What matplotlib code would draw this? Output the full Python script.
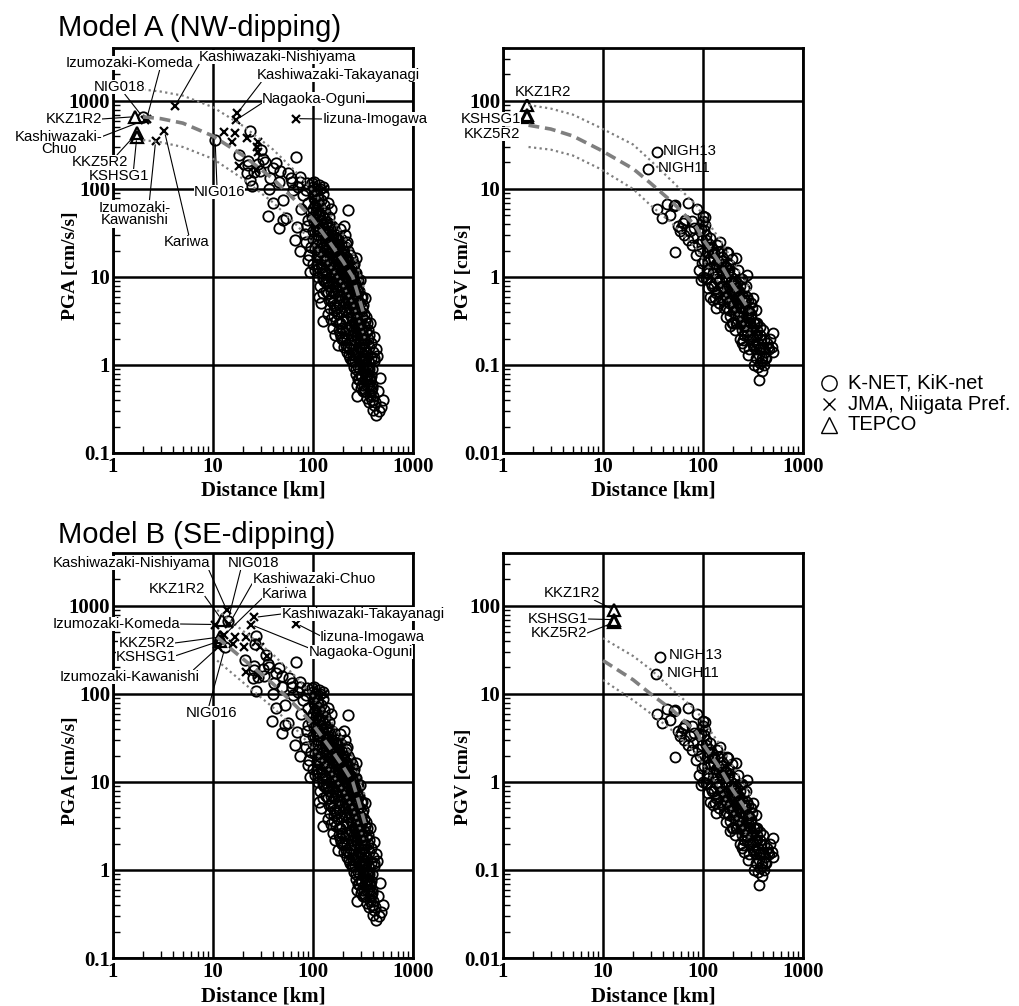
import matplotlib
matplotlib.use("Agg")
import matplotlib.pyplot as plt
from matplotlib.lines import Line2D
from matplotlib.ticker import FixedLocator, FixedFormatter, LogLocator, NullFormatter

W, H = 1020, 1006

plt.rcParams["font.family"] = ["Liberation Serif", "DejaVu Serif"]
plt.rcParams["font.weight"] = "bold"
plt.rcParams["font.size"] = 15

# ---------------- axis ticks ----------------
dist_ticks = [1, 10, 100, 1000]
dist_labels = ["1", "10", "100", "1000"]
pga_ticks = [0.1, 1, 10, 100, 1000]
pga_labels = ["0.1", "1", "10", "100", "1000"]
pgv_ticks = [0.01, 0.1, 1, 10, 100]
pgv_labels = ["0.01", "0.1", "1", "10", "100"]

# ---------------- attenuation curves (median, +/- sigma) ----------------
pga_a_r = [2, 3, 5, 10, 20, 40, 70, 100, 150, 200, 250, 300, 330]
pga_a_med = [660, 630, 560, 400, 240, 130, 70, 45, 24, 15, 10, 5, 3.4]
pga_a_up = [1350, 1280, 1150, 850, 520, 280, 150, 95, 50, 30, 19, 10, 7]
pga_a_lo = [360, 340, 300, 220, 130, 70, 38, 24, 13, 8, 5, 2.8, 2]

pga_b_r = [11, 20, 40, 70, 100, 150, 200, 250, 300, 330]
pga_b_med = [440, 250, 130, 70, 45, 24, 15, 10, 5, 3.4]
pga_b_up = [900, 520, 280, 150, 95, 50, 30, 19, 10, 7]
pga_b_lo = [240, 135, 70, 38, 24, 13, 8, 5, 2.8, 2]

pgv_a_r = [1.8, 3, 5, 9.3, 20, 30, 50, 86, 100, 150, 200, 250, 300]
pgv_a_med = [53, 48, 40, 28, 17, 11.6, 7, 3.7, 2.7, 1.4, 0.8, 0.55, 0.4]
pgv_a_up = [90, 82, 70, 50, 32, 21, 12, 6.5, 5, 2.6, 1.5, 1.0, 0.7]
pgv_a_lo = [30, 28, 24, 17, 10, 6.5, 4, 2.1, 1.6, 0.8, 0.45, 0.3, 0.22]

pgv_b_r = [10, 20, 30, 50, 86, 100, 150, 200, 250, 300]
pgv_b_med = [24, 14.5, 10, 6.5, 3.7, 2.7, 1.4, 0.8, 0.55, 0.4]
pgv_b_up = [43, 27, 19, 11, 6.5, 5, 2.6, 1.5, 1.0, 0.7]
pgv_b_lo = [14.4, 8.5, 6, 3.8, 2.1, 1.6, 0.8, 0.45, 0.3, 0.22]

# ---------------- K-NET / KiK-net PGA (shared far field) ----------------
pga_knet_far = [
    (66, 26), (74, 20), (89, 15.5), (94, 11.5), (83, 31), (68.5, 37), (76.6, 60), (89, 44),
    (104, 75), (97, 116), (116, 110), (113, 51), (100, 33), (108, 26), (86, 97), (71.5, 106),
    (90, 70), (80, 85), (95, 55), (85, 25), (92, 18), (99, 14), (96, 22), (105, 65),
    (102, 90), (110, 85), (98, 48), (88, 38), (68, 230), (74, 138), (87, 116), (100, 106),
    (126, 106), (61, 121), (63.6, 97), (74, 121),
    (102, 120), (106, 95), (112, 78), (118, 100), (125, 88), (103, 42), (107, 36), (113, 30),
    (119, 45), (124, 58), (128, 66), (100, 27), (104, 21), (109, 17), (115, 24), (121, 19),
    (127, 32), (105, 12), (111, 10), (117, 8), (123, 13), (126, 6.5), (126, 3.2), (120, 5),
    (114, 6), (130, 9), (129, 15), (131, 26), (110, 14), (116, 12.5),
    (133, 55), (137, 42), (141, 70), (146, 48), (150, 60), (155, 38), (134, 22), (138, 30),
    (143, 26), (147, 19), (152, 24), (157, 29), (162, 35), (135, 11), (139, 16), (144, 13),
    (149, 10), (154, 15), (160, 18), (165, 22), (168, 28), (136, 7), (140, 8.5), (145, 5.5),
    (151, 7), (156, 9), (161, 11), (166, 13), (170, 16), (142, 3.8), (148, 4.5), (153, 3.3),
    (158, 5), (163, 6.5), (169, 8), (159, 2.6), (164, 3.6), (167, 2.2), (172, 4.5),
    (175, 30), (180, 22), (186, 35), (192, 27), (198, 20), (204, 38), (210, 30), (174, 12),
    (178, 17), (183, 14), (189, 19), (195, 15), (201, 12), (207, 22), (213, 17), (218, 25),
    (176, 7), (181, 9.5), (187, 6), (193, 8), (199, 10), (205, 6.8), (211, 9), (216, 12),
    (179, 1.7), (182, 3), (188, 2.3), (191, 4), (197, 3.2), (203, 5), (209, 4.2), (215, 3.5),
    (219, 6), (184, 4.8), (196, 2), (206, 1.6), (212, 2.6), (217, 1.4),
    (224, 57), (216, 24), (222, 20), (228, 15), (234, 18), (240, 13), (247, 16), (253, 11),
    (259, 14), (269, 16.6), (223, 10), (229, 8), (236, 11), (242, 7), (248, 9), (255, 6.5),
    (261, 8.5), (267, 11), (273, 7.5), (225, 5), (231, 4), (238, 6), (244, 3.5), (250, 4.8),
    (256, 3), (263, 5.5), (270, 4.2), (276, 6), (227, 2.5), (233, 1.8), (239, 2.8), (246, 2.2),
    (252, 1.5), (258, 2.5), (264, 1.9), (271, 3), (277, 2.2), (232, 1.2), (249, 1.1), (262, 1.3),
    (274, 0.6), (275, 0.44), (268, 0.9), (279, 1.4), (280, 9),
    (283, 5), (290, 7), (295, 9.3), (300, 4), (306, 6), (312, 3.5), (318, 4.8), (325, 2.8),
    (331, 5.8), (338, 3.5), (286, 2.8), (292, 2), (298, 3), (303, 1.6), (309, 2.4), (315, 1.8),
    (321, 1.3), (327, 2), (334, 1.5), (341, 2.4), (288, 1.2), (296, 0.9), (304, 1.1), (311, 0.75),
    (319, 0.95), (328, 0.68), (336, 1), (344, 0.8), (282, 0.7), (300, 0.55), (313, 0.5),
    (343, 0.42), (348, 0.6),
    (355, 2), (365, 1.6), (372, 3), (380, 1.2), (392, 0.9), (403, 2.1), (412, 1.1), (427, 1.5),
    (437, 1.26), (358, 0.95), (368, 0.7), (376, 0.5), (388, 0.6), (398, 0.45), (406, 0.35),
    (427, 0.27), (418, 0.38), (445, 0.5), (468, 0.72), (480, 0.33), (501, 0.4), (455, 0.3),
    (362, 0.38), (395, 0.31),
]

# denser core of the far-field band
pga_knet_core = [
    (101, 60), (103, 80), (106, 55), (108, 45), (111, 38), (114, 50), (117, 34), (120, 28),
    (123, 40), (126, 22), (129, 35), (132, 18), (134, 40), (137, 24), (139, 20), (142, 33),
    (144, 17), (147, 27), (149, 14), (152, 19), (154, 11), (157, 21), (159, 13), (162, 15),
    (164, 10), (167, 18), (169, 12), (171, 9), (173, 20), (176, 14), (178, 10), (181, 12),
    (183, 8), (186, 15), (188, 11), (191, 9.5), (193, 13), (196, 7), (198, 11), (201, 8.5),
    (203, 14), (206, 9), (208, 6), (211, 11), (213, 7.5), (216, 5), (218, 9), (221, 6.5),
    (223, 13), (226, 7), (229, 5.5), (231, 9.5), (234, 4.5), (236, 7.5), (239, 5), (241, 9),
    (244, 6), (246, 4), (249, 7), (251, 5), (254, 3.5), (256, 8), (259, 4.5), (261, 3),
    (264, 6.5), (266, 4), (269, 2.6), (271, 5.5), (274, 3.5), (276, 2.4), (279, 4.5), (281, 3),
    (284, 2), (286, 4), (289, 2.6), (291, 1.6), (294, 3.2), (297, 2.2), (299, 1.4), (302, 2.6),
    (305, 1.9), (308, 1.2), (311, 2.2), (314, 1.5), (317, 1), (320, 1.8), (324, 1.2), (327, 0.85),
    (330, 1.4), (334, 1.1), (338, 0.75), (342, 1.2), (346, 0.9), (350, 0.7), (354, 1.1),
    (358, 0.8), (362, 0.6), (366, 0.9), (370, 0.65), (375, 0.45), (380, 0.75), (385, 0.55),
    (390, 0.4),
    (115, 20), (118, 16), (121, 14), (124, 11), (127, 9.5), (131, 12), (136, 9), (141, 6.5),
    (146, 8), (151, 5.5), (156, 6), (161, 4.2), (166, 4.8), (171, 3.2), (177, 3.8), (182, 2.5),
    (187, 3), (192, 2.1), (197, 2.6), (202, 1.9), (207, 2.3), (212, 1.7), (218, 2), (224, 1.6),
    (230, 1.3), (237, 1.5), (243, 1.1), (250, 1.3), (256, 0.95), (263, 1.1), (270, 0.8),
    (282, 0.95), (290, 0.7), (300, 0.75), (310, 0.6), (320, 0.6), (330, 0.5),
    (104, 100), (109, 70), (114, 65), (119, 75), (124, 50), (129, 48), (134, 30), (140, 36),
    (145, 40), (150, 30), (156, 25), (161, 25), (167, 20), (172, 24), (178, 27), (184, 22),
    (190, 24), (196, 17), (202, 18), (208, 16), (214, 14), (220, 15), (226, 12), (232, 12),
    (238, 10), (244, 11), (250, 13), (256, 10), (262, 11), (268, 8), (274, 9), (285, 7),
    (292, 5), (300, 6), (310, 4.5), (320, 3.8), (330, 3.2), (345, 3), (355, 2.5), (365, 2.2),
    (380, 1.8), (395, 1.4), (410, 1.2),
]

pga_knet_near_a = [
    (18.3, 243), (23.4, 460), (22.5, 210), (25.7, 157), (30, 277), (31.6, 222), (29.5, 162),
    (40, 172), (46.6, 162), (37, 132), (43, 196), (56, 150), (23.4, 127), (22.5, 188),
    (21.7, 150), (24.4, 108), (36.5, 99), (35.7, 48.7), (46, 36), (50, 44), (54, 46.5),
    (40, 69), (50, 75), (33, 200), (28, 190), (46, 121), (59.6, 133),
]
pga_knet_near_b = [
    (20.9, 243), (27, 456), (25.5, 210), (28.5, 157), (33.5, 277), (35.7, 222), (32.5, 162),
    (43, 172), (49.5, 162), (40.5, 132), (46, 196), (58, 150), (27.2, 108), (25.8, 188),
    (25, 150), (26.3, 373), (39.5, 99), (39, 48.7), (48.5, 36), (52.5, 44), (56.5, 46.5),
    (43, 69), (53, 75), (36.5, 200), (31.5, 190), (49, 121), (61, 133),
]

# named K-NET stations (PGA)
knet_a_names = ["NIG018", "NIG016"]
knet_a_r = [2.0, 10.5]
knet_a_pga = [650, 360]
knet_b_names = ["NIG018", "NIG016"]
knet_b_r = [14.1, 13.2]
knet_b_pga = [680, 340]

# ---------------- JMA / Niigata Pref. PGA ----------------
jma_a_names = ["Kashiwazaki-Nishiyama", "Izumozaki-Komeda", "Kashiwazaki-Chuo",
               "Izumozaki-Kawanishi", "Kariwa", "Kashiwazaki-Takayanagi",
               "Nagaoka-Oguni", "Iizuna-Imogawa"]
jma_a_r = [4.17, 2.17, 2.09, 2.67, 3.26, 17.5, 17.0, 67]
jma_a_pga = [877, 624, 608, 354, 460, 725, 608, 630]
jma_a_other_r = [12.9, 16.6, 15.6, 21.9, 28.4, 28.4, 18, 27.2, 27.5, 130]
jma_a_other_pga = [441, 436, 345, 377, 345, 265, 184, 164, 300, 100]

jma_b_names = ["Kashiwazaki-Nishiyama", "Izumozaki-Komeda", "Kashiwazaki-Chuo",
               "Izumozaki-Kawanishi", "Kariwa", "Kashiwazaki-Takayanagi",
               "Nagaoka-Oguni", "Iizuna-Imogawa"]
jma_b_r = [13.7, 10.5, 14.6, 11.3, 12.9, 25.7, 23.8, 68]
jma_b_pga = [900, 616, 630, 340, 464, 741, 616, 632]
jma_b_other_r = [16.6, 21.4, 15.7, 20.2, 26.9, 29.5, 21.4, 28.4, 34.4, 130]
jma_b_other_pga = [444, 444, 366, 340, 389, 340, 176, 165, 273, 100]

# ---------------- TEPCO ----------------
tepco_names = ["KKZ1R2", "KKZ5R2", "KSHSG1"]
tepco_a_r = [1.66, 1.73, 1.73]
tepco_a_pga = [663, 430, 394]
tepco_b_r = [12.2, 11.7, 11.7]
tepco_b_pga = [700, 444, 400]
tepco_a_pgv_r = [1.75, 1.75, 1.75]
tepco_b_pgv_r = [12.9, 12.9, 12.9]
tepco_pgv = [90, 65, 70]

# ---------------- K-NET / KiK-net PGV ----------------
pgv_named = ["NIGH13", "NIGH11"]
pgv_named_a_r = [34.6, 28.2]
pgv_named_b_r = [36.9, 33.9]
pgv_named_v = [26.5, 16.9]

pgv_knet = [
    (34.6, 5.9), (38.9, 4.7), (43.7, 6.7), (50.8, 6.4), (46.8, 5.0), (70.8, 6.9), (87.1, 5.9),
    (52.5, 1.94), (63, 4.1), (58.9, 3.3), (77.6, 4.3), (73.6, 3.3), (70.8, 2.6), (77.6, 2.3),
    (93.3, 2.0), (105, 4.8), (100, 4.3), (98.5, 2.6), (98, 1.43), (96.6, 0.92), (53, 6.5),
    (60, 3.6), (66, 4.4), (80, 2.8), (85, 1.8), (90, 2.4), (95, 3.5), (92, 1.2), (100, 1.0),
    (65, 3.0), (56, 3.8), (82, 3.6),
    (100.8, 4.9), (105, 3.9), (108, 3.0), (112, 2.2), (115, 1.6), (118, 2.8), (122, 1.9),
    (125, 1.3), (128, 1.85), (128, 0.78), (132, 0.58), (135, 1.1), (138, 2.3), (142, 1.5),
    (145, 0.9), (148, 2.5), (150, 1.2), (153, 2.0), (108, 0.97), (103, 1.5), (110, 1.2),
    (118, 0.6), (120, 0.85), (140, 0.7), (145, 0.5), (135, 0.45), (125, 0.55), (113, 0.75),
    (130, 1.6), (155, 1.7),
    (158, 0.8), (160, 1.4), (165, 1.0), (170, 0.6), (175, 1.9), (179, 1.85), (182, 1.2),
    (186, 1.37), (185, 0.36), (190, 0.9), (195, 0.5), (200, 0.55), (200, 0.3), (205, 1.1),
    (210, 0.7), (216, 1.63), (215, 0.45), (220, 0.85), (162, 0.45), (168, 0.35), (175, 0.75),
    (180, 0.5), (192, 0.65), (198, 0.4), (208, 0.9), (212, 0.3), (178, 1.4), (188, 0.28),
    (170, 1.3), (195, 1.6), (218, 0.6),
    (225, 1.2), (230, 0.5), (236, 0.78), (240, 0.4), (245, 0.95), (250, 0.6), (253, 0.19),
    (255, 0.3), (260, 0.75), (265, 0.45), (270, 0.25), (274, 1.05), (274, 0.27), (278, 0.6),
    (282, 0.55), (285, 0.13), (288, 0.4), (292, 0.3), (296, 0.2), (300, 0.5), (228, 0.7),
    (238, 0.3), (248, 0.36), (258, 0.22), (268, 0.8), (280, 0.35), (290, 0.15), (262, 0.55),
    (232, 0.95), (244, 0.25),
    (305, 0.38), (310, 0.25), (316, 0.58), (316, 0.21), (322, 0.3), (330, 0.17), (335, 0.42),
    (340, 0.12), (345, 0.22), (350, 0.3), (360, 0.15), (367, 0.068), (372, 0.27), (372, 0.155),
    (372, 0.105), (380, 0.2), (386, 0.085), (390, 0.12), (400, 0.16), (410, 0.1), (420, 0.14),
    (440, 0.18), (460, 0.15), (485, 0.16), (503, 0.23), (503, 0.14), (325, 0.1), (355, 0.095),
    (395, 0.25), (470, 0.2), (430, 0.12), (310, 0.45), (340, 0.3),
]

pgv_knet_core = [
    (102, 3.4), (106, 2.6), (110, 1.9), (114, 2.4), (118, 1.5), (122, 2.1), (126, 1.1),
    (130, 1.9), (134, 1.4), (138, 0.95), (142, 1.9), (146, 1.3), (150, 0.8), (154, 1.5),
    (158, 1.1), (162, 0.7), (166, 1.3), (170, 0.9), (174, 0.6), (178, 1.1), (182, 0.8),
    (186, 0.55), (190, 1.0), (194, 0.7), (198, 0.48), (202, 0.85), (206, 0.6), (210, 0.42),
    (215, 0.75), (220, 0.5), (225, 0.36), (230, 0.65), (235, 0.45), (240, 0.3), (246, 0.55),
    (252, 0.4), (258, 0.28), (264, 0.5), (270, 0.35), (276, 0.22), (282, 0.42), (288, 0.3),
    (294, 0.2), (300, 0.35), (308, 0.26), (315, 0.17), (322, 0.3), (330, 0.22), (338, 0.15),
    (346, 0.25), (354, 0.18), (362, 0.13), (370, 0.22), (380, 0.16), (390, 0.11), (405, 0.19),
    (420, 0.12), (450, 0.16), (112, 1.1), (124, 0.8), (136, 0.65), (148, 0.6), (160, 0.55),
    (172, 0.45), (184, 0.42), (196, 0.3), (208, 0.25), (220, 0.3), (232, 0.2), (246, 0.18),
    (260, 0.16),
]

# ---------------- annotation layout: (text, station, x_px, y_px, relpos) ----------------
ann_pga_a = [
    ("Kashiwazaki-Nishiyama", "Kashiwazaki-Nishiyama", 278, 57, (0.0, 0.0)),
    ("Izumozaki-Komeda", "Izumozaki-Komeda", 129, 63, (0.74, 0.0)),
    ("Kashiwazaki-Takayanagi", "Kashiwazaki-Takayanagi", 338, 75, (0.03, 0.0)),
    ("NIG018", "NIG018", 119.5, 87, (0.6, 0.0)),
    ("Nagaoka-Oguni", "Nagaoka-Oguni", 314, 99, (0.0, 0.2)),
    ("KKZ1R2", "KKZ1R2", 73.5, 119, (1.0, 0.5)),
    ("Kashiwazaki-\nChuo", "Kashiwazaki-Chuo", 59, 143, (1.0, 0.75)),
    ("KKZ5R2", "KKZ5R2", 100, 162, (0.8, 1.0)),
    ("KSHSG1", "KSHSG1", 118.5, 176, (0.75, 1.0)),
    ("Izumozaki-\nKawanishi", "Izumozaki-Kawanishi", 135, 214, (0.7, 1.0)),
    ("Kariwa", "Kariwa", 186.5, 242, (0.55, 1.0)),
    ("NIG016", "NIG016", 219.5, 192, (0.45, 1.0)),
    ("Iizuna-Imogawa", "Iizuna-Imogawa", 375, 119, (0.0, 0.5)),
]
ann_pga_b = [
    ("Kashiwazaki-Nishiyama", "Kashiwazaki-Nishiyama", 132, 563, (0.98, 0.2)),
    ("NIG018", "NIG018", 253.5, 563, (0.25, 0.0)),
    ("Kashiwazaki-Chuo", "Kashiwazaki-Chuo", 314, 579, (0.0, 0.2)),
    ("KKZ1R2", "KKZ1R2", 176.5, 589, (1.0, 0.0)),
    ("Kariwa", "Kariwa", 285, 594, (0.0, 0.2)),
    ("Kashiwazaki-Takayanagi", "Kashiwazaki-Takayanagi", 363, 614, (0.0, 0.5)),
    ("Izumozaki-Komeda", "Izumozaki-Komeda", 116.5, 624, (1.0, 0.5)),
    ("Iizuna-Imogawa", "Iizuna-Imogawa", 372.5, 637, (0.0, 0.6)),
    ("Nagaoka-Oguni", "Nagaoka-Oguni", 360.5, 652, (0.0, 0.8)),
    ("KKZ5R2", "KKZ5R2", 146.5, 643, (1.0, 0.5)),
    ("KSHSG1", "KSHSG1", 146, 657, (1.0, 0.6)),
    ("Izumozaki-Kawanishi", "Izumozaki-Kawanishi", 130, 677, (0.93, 0.8)),
    ("NIG016", "NIG016", 211.5, 713, (0.45, 1.0)),
]
ann_pgv_a = [
    ("KKZ1R2", None, 543, 92, None),
    ("KSHSG1", None, 490.5, 119, None),
    ("KKZ5R2", None, 492, 134, None),
]
ann_pgv_b = [
    ("KKZ1R2", "KKZ1R2", 571.5, 593, (0.9, 0.0)),
    ("KSHSG1", "KSHSG1", 557.5, 619, (1.0, 0.5)),
    ("KKZ5R2", "KKZ5R2", 559, 633, (1.0, 0.5)),
]
nigh_a_text = [("NIGH13", 663, 151), ("NIGH11", 658, 168)]
nigh_b_text = [("NIGH13", 669, 655), ("NIGH11", 667, 673)]

SANS = ["Liberation Sans", "DejaVu Sans"]
ANN_FS = 10.7
GRAY = "#7f7f7f"


def setup(ax, yticks, ylabels, ylim, ylabel, ylab_x, ylab_y):
    ax.set_xscale("log")
    ax.set_yscale("log")
    ax.set_xlim(1, 1000)
    ax.set_ylim(*ylim)
    ax.xaxis.set_major_locator(FixedLocator(dist_ticks))
    ax.xaxis.set_major_formatter(FixedFormatter(dist_labels))
    ax.yaxis.set_major_locator(FixedLocator(yticks))
    ax.yaxis.set_major_formatter(FixedFormatter(ylabels))
    for axis in (ax.xaxis, ax.yaxis):
        axis.set_minor_locator(LogLocator(base=10, subs=range(2, 10), numticks=30))
        axis.set_minor_formatter(NullFormatter())
    ax.set_axisbelow(True)
    ax.grid(True, which="major", color="black", lw=1.8)
    ax.tick_params(which="major", length=0, pad=3, labelsize=15)
    ax.tick_params(axis="y", which="major", pad=2)
    ax.tick_params(which="minor", direction="in", length=5, width=1, color="black")
    for s in ax.spines.values():
        s.set_linewidth(2)
    ax.text(0.5, -38 / 405, "Distance [km]", transform=ax.transAxes, ha="center",
            va="center", fontsize=15, fontweight="bold")
    ax.text(ylab_x, ylab_y, ylabel, transform=ax.transAxes, rotation=90, ha="center",
            va="center", fontsize=14, fontweight="bold")


def curves(ax, r, med, up, lo):
    ax.plot(r, up, color=GRAY, lw=1.6, ls=(0, (1, 1.5)), zorder=5)
    ax.plot(r, lo, color=GRAY, lw=1.6, ls=(0, (1, 1.5)), zorder=5)
    ax.plot(r, med, color=GRAY, lw=2.6, ls=(0, (3, 1.6)), zorder=5)


def circles(ax, pts, ms=7.5):
    ax.plot([p[0] for p in pts], [p[1] for p in pts], "o", mfc="none", mec="black",
            mew=1.3, ms=ms, zorder=3)


def annotate(ax, items, lookup):
    for text, key, tx, ty, rel in items:
        kw = dict(textcoords="figure pixels", xytext=(tx, H - ty), ha="center",
                  va="center", fontsize=ANN_FS, family=SANS, fontweight="normal",
                  linespacing=0.9, annotation_clip=False, zorder=7,
                  bbox=dict(facecolor="white", edgecolor="none", pad=0.1))
        if key is None:
            ax.annotate(text, xy=(tx, H - ty), xycoords="figure pixels", **kw)
        else:
            ax.annotate(text, xy=lookup[key], xycoords="data",
                        arrowprops=dict(arrowstyle="-", color="black", lw=0.8,
                                        shrinkA=0, shrinkB=3, relpos=rel), **kw)


fig = plt.figure(figsize=(W / 100, H / 100), dpi=100)
ax_w = 300 / W
ax_h = 405 / H
ax1 = fig.add_axes([113 / W, (H - 453) / H, ax_w, ax_h])
ax2 = fig.add_axes([503 / W, (H - 453) / H, ax_w, ax_h])
ax3 = fig.add_axes([113 / W, (H - 958) / H, ax_w, ax_h])
ax4 = fig.add_axes([503 / W, (H - 958) / H, ax_w, ax_h])

setup(ax1, pga_ticks, pga_labels, (0.1, 4000), "PGA [cm/s/s]", -0.14, 0.462)
setup(ax3, pga_ticks, pga_labels, (0.1, 4000), "PGA [cm/s/s]", -0.14, 0.462)
setup(ax2, pgv_ticks, pgv_labels, (0.01, 400), "PGV [cm/s]", -0.133, 0.448)
setup(ax4, pgv_ticks, pgv_labels, (0.01, 400), "PGV [cm/s]", -0.133, 0.448)

# ---- PGA panels ----
for ax, near, kn, kr, kv, jn, jr, jv, jor, jov, tr, tv, cr, cm, cu, cl, ann in [
    (ax1, pga_knet_near_a, knet_a_names, knet_a_r, knet_a_pga, jma_a_names, jma_a_r, jma_a_pga,
     jma_a_other_r, jma_a_other_pga, tepco_a_r, tepco_a_pga,
     pga_a_r, pga_a_med, pga_a_up, pga_a_lo, ann_pga_a),
    (ax3, pga_knet_near_b, knet_b_names, knet_b_r, knet_b_pga, jma_b_names, jma_b_r, jma_b_pga,
     jma_b_other_r, jma_b_other_pga, tepco_b_r, tepco_b_pga,
     pga_b_r, pga_b_med, pga_b_up, pga_b_lo, ann_pga_b),
]:
    circles(ax, pga_knet_far)
    circles(ax, pga_knet_core)
    circles(ax, near)
    circles(ax, list(zip(kr, kv)))
    ax.plot(jr + jor, jv + jov, "x", color="black", ms=6, mew=1.6, zorder=4)
    ax.plot(tr, tv, "^", mfc="none", mec="black", ms=8.5, mew=1.6, zorder=4)
    curves(ax, cr, cm, cu, cl)
    lookup = {}
    lookup.update({n: (r, v) for n, r, v in zip(kn, kr, kv)})
    lookup.update({n: (r, v) for n, r, v in zip(jn, jr, jv)})
    lookup.update({n: (r, v) for n, r, v in zip(tepco_names, tr, tv)})
    annotate(ax, ann, lookup)

# ---- PGV panels ----
for ax, nr, tr, cr, cm, cu, cl, ann, ntext in [
    (ax2, pgv_named_a_r, tepco_a_pgv_r, pgv_a_r, pgv_a_med, pgv_a_up, pgv_a_lo, ann_pgv_a, nigh_a_text),
    (ax4, pgv_named_b_r, tepco_b_pgv_r, pgv_b_r, pgv_b_med, pgv_b_up, pgv_b_lo, ann_pgv_b, nigh_b_text),
]:
    circles(ax, pgv_knet, ms=7.2)
    circles(ax, pgv_knet_core, ms=7.2)
    circles(ax, list(zip(nr, pgv_named_v)), ms=7.2)
    ax.plot(tr, tepco_pgv, "^", mfc="none", mec="black", ms=8.5, mew=1.6, zorder=4)
    curves(ax, cr, cm, cu, cl)
    lookup = {n: (r, v) for n, r, v in zip(tepco_names, tr, tepco_pgv)}
    annotate(ax, ann, lookup)
    for text, tx, ty in ntext:
        fig.text(tx / W, 1 - ty / H, text, ha="left", va="center", fontsize=ANN_FS,
                 family=SANS, fontweight="normal", zorder=7)

# ---- titles ----
fig.text(58 / W, 1 - 36 / H, "Model A (NW-dipping)", fontsize=21, family=SANS,
         fontweight="normal", va="baseline")
fig.text(58 / W, 1 - 543 / H, "Model B (SE-dipping)", fontsize=21, family=SANS,
         fontweight="normal", va="baseline")

# ---- legend ----
legend_labels = ["K-NET, KiK-net", "JMA, Niigata Pref.", "TEPCO"]
legend_markers = ["o", "x", "^"]
legend_sizes = [11, 8, 11]
for i, (lab, mk, sz) in enumerate(zip(legend_labels, legend_markers, legend_sizes)):
    yy = 1 - (383 + 21 * i) / H
    fig.add_artist(Line2D([829 / W], [yy], marker=mk, ms=sz, mfc="none", mec="black",
                          mew=1.0, color="black", transform=fig.transFigure))
    fig.text(848 / W, yy, lab, fontsize=14.5, family=SANS, fontweight="normal",
             va="center", ha="left")

fig.savefig("out.png", dpi=100)
